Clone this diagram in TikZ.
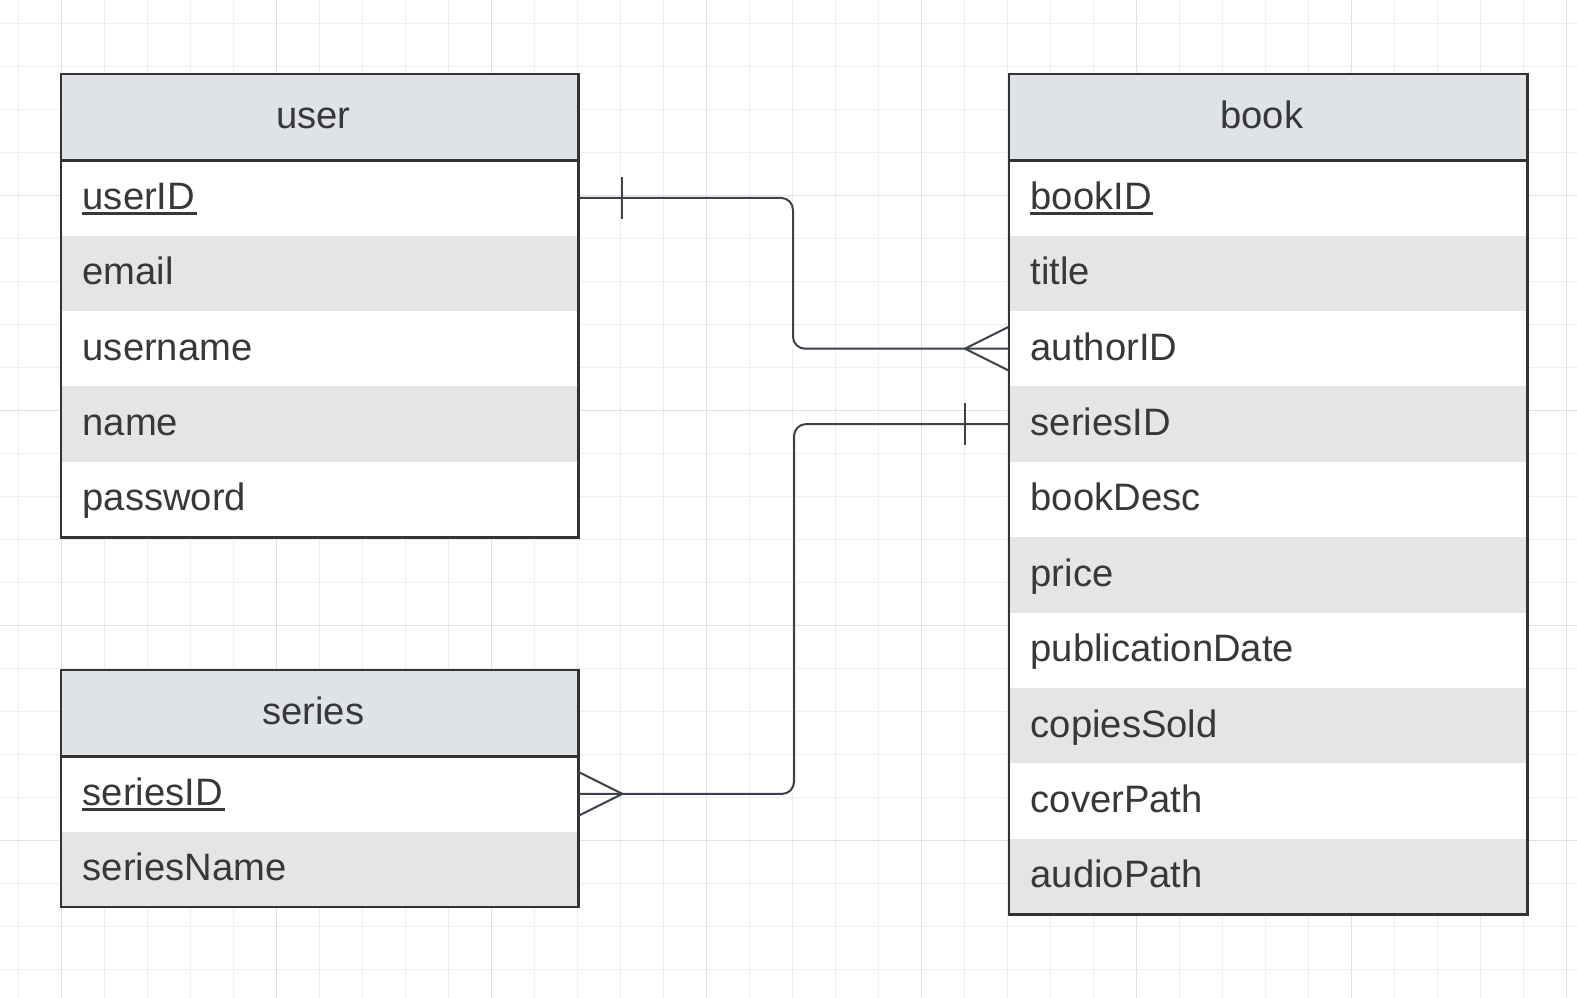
\documentclass[tikz,border=0pt]{standalone}
\usepackage{fontspec}
\setmainfont{Liberation Sans}
\definecolor{hdrfill}{RGB}{223,226,231}
\definecolor{rowfill}{RGB}{229,229,229}
\definecolor{txt}{RGB}{56,56,56}
\definecolor{bord}{RGB}{51,51,51}
\definecolor{conncol}{RGB}{60,65,74}
\definecolor{gridmin}{RGB}{238,238,238}
\definecolor{gridmaj}{RGB}{224,224,224}
\tikzset{
  hdr/.style={draw=none, fill=hdrfill, minimum width=517pt, minimum height=86pt, inner sep=0pt, anchor=north west},
  rw/.style={draw=none, fill=white, minimum width=517pt, minimum height=75.4pt, inner sep=0pt, anchor=north west},
  rg/.style={rw, fill=rowfill},
  lbl/.style={text=txt, inner sep=0pt, anchor=base west, font=\fontsize{38.2}{45}\selectfont},
  hlbl/.style={text=txt, inner sep=0pt, anchor=base, font=\fontsize{38.2}{45}\selectfont},
  tblborder/.style={draw=bord, line width=2.2pt},
  keyline/.style={draw=txt, line width=2.6pt},
  conn/.style={draw=conncol, line width=2pt, rounded corners=12pt},
  ermark/.style={draw=conncol, line width=2pt},
}
\begin{document}
\begin{tikzpicture}[x=1pt,y=-1pt]
\useasboundingbox (0,0) rectangle (1577,998);
\fill[white] (0,0) rectangle (1577,998);
% grid
\begin{scope}
\clip (0,0) rectangle (1577,998);
\foreach \k in {0,...,36}{
  \pgfmathtruncatemacro\m{mod(\k,5)}
  \ifnum\m=1 \def\gc{gridmaj}\else\def\gc{gridmin}\fi
  \draw[draw=\gc, line width=1.1pt] (18.3+43*\k,0) -- (18.3+43*\k,998);
}
\foreach \k in {0,...,22}{
  \pgfmathtruncatemacro\m{mod(\k,5)}
  \ifnum\m=4 \def\gc{gridmaj}\else\def\gc{gridmin}\fi
  \draw[draw=\gc, line width=1.1pt] (0,23.3+43*\k) -- (1577,23.3+43*\k);
}
\end{scope}

% ---------- user table ----------
\node[hdr] (uh) at (61,74) {};
\node[rw] (u1) at (61,160) {};
\node[rg] (u2) at (61,235.4) {};
\node[rw] (u3) at (61,310.8) {};
\node[rg] (u4) at (61,386.2) {};
\node[rw] (u5) at (61,461.6) {};
\node[hlbl] (uht) at ([xshift=-6.5pt,yshift=-11pt]uh.center) {user};
\node[lbl] (u1t) at ([xshift=21.5pt,yshift=-11.3pt]u1.west) {userID};
\node[lbl] (u2t) at ([xshift=21.5pt,yshift=-11.3pt]u2.west) {email};
\node[lbl] (u3t) at ([xshift=21.5pt,yshift=-11.3pt]u3.west) {username};
\node[lbl] (u4t) at ([xshift=21.5pt,yshift=-11.3pt]u4.west) {name};
\node[lbl] (u5t) at ([xshift=21.5pt,yshift=-11.3pt]u5.west) {password};
\draw[keyline] ([xshift=-1pt,yshift=-4pt]u1t.base west) -- ([xshift=1.5pt,yshift=-4pt]u1t.base east);
\draw[tblborder] (uh.north west) rectangle (u5.south east);
\draw[tblborder] (uh.south west) -- (uh.south east);

% ---------- series table ----------
\node[hdr] (sh) at (61,670) {};
\node[rw] (s1) at (61,756) {};
\node[rg] (s2) at (61,831.4) {};
\node[hlbl] (sht) at ([xshift=-6.5pt,yshift=-11pt]sh.center) {series};
\node[lbl] (s1t) at ([xshift=21.5pt,yshift=-11.3pt]s1.west) {seriesID};
\node[lbl] (s2t) at ([xshift=21.5pt,yshift=-11.3pt]s2.west) {seriesName};
\draw[keyline] ([xshift=-1pt,yshift=-4pt]s1t.base west) -- ([xshift=1.5pt,yshift=-4pt]s1t.base east);
\draw[tblborder] (sh.north west) rectangle (s2.south east);
\draw[tblborder] (sh.south west) -- (sh.south east);

% ---------- book table ----------
\node[hdr, minimum width=518pt] (bh) at (1009,74) {};
\node[rw, minimum width=518pt] (b1) at (1009,160) {};
\node[rg, minimum width=518pt] (b2) at (1009,235.4) {};
\node[rw, minimum width=518pt] (b3) at (1009,310.8) {};
\node[rg, minimum width=518pt] (b4) at (1009,386.2) {};
\node[rw, minimum width=518pt] (b5) at (1009,461.6) {};
\node[rg, minimum width=518pt] (b6) at (1009,537.0) {};
\node[rw, minimum width=518pt] (b7) at (1009,612.4) {};
\node[rg, minimum width=518pt] (b8) at (1009,687.8) {};
\node[rw, minimum width=518pt] (b9) at (1009,763.2) {};
\node[rg, minimum width=518pt] (b10) at (1009,838.6) {};
\node[hlbl] (bht) at ([xshift=-6.5pt,yshift=-11pt]bh.center) {book};
\node[lbl] (b1t) at ([xshift=21.5pt,yshift=-11.3pt]b1.west) {bookID};
\node[lbl] (b2t) at ([xshift=21.5pt,yshift=-11.3pt]b2.west) {title};
\node[lbl] (b3t) at ([xshift=21.5pt,yshift=-11.3pt]b3.west) {authorID};
\node[lbl] (b4t) at ([xshift=21.5pt,yshift=-11.3pt]b4.west) {seriesID};
\node[lbl] (b5t) at ([xshift=21.5pt,yshift=-11.3pt]b5.west) {bookDesc};
\node[lbl] (b6t) at ([xshift=21.5pt,yshift=-11.3pt]b6.west) {price};
\node[lbl] (b7t) at ([xshift=21.5pt,yshift=-11.3pt]b7.west) {publicationDate};
\node[lbl] (b8t) at ([xshift=21.5pt,yshift=-11.3pt]b8.west) {copiesSold};
\node[lbl] (b9t) at ([xshift=21.5pt,yshift=-11.3pt]b9.west) {coverPath};
\node[lbl] (b10t) at ([xshift=21.5pt,yshift=-11.3pt]b10.west) {audioPath};
\draw[keyline] ([xshift=-1pt,yshift=-4pt]b1t.base west) -- ([xshift=1.5pt,yshift=-4pt]b1t.base east);
\draw[tblborder] (bh.north west) rectangle (b10.south east);
\draw[tblborder] (bh.south west) -- (bh.south east);

% ---------- connectors ----------
\coordinate (mx1) at (793,0);
\coordinate (mx2) at (794,0);
% user.userID (one) -- book.authorID (many)
\draw[conn] (u1.east) -- (u1.east -| mx1) -- (b3.west -| mx1) -- (b3.west);
\draw[ermark] ([xshift=44pt,yshift=21pt]u1.east) -- ([xshift=44pt,yshift=-21pt]u1.east);
\draw[ermark] ([yshift=22pt]b3.west) -- ([xshift=-44pt]b3.west) -- ([yshift=-22pt]b3.west);
% book.seriesID (one) -- series.seriesID (many)
\draw[conn] (b4.west) -- (b4.west -| mx2) -- (s1.east -| mx2) -- (s1.east);
\draw[ermark] ([xshift=-44pt,yshift=21pt]b4.west) -- ([xshift=-44pt,yshift=-21pt]b4.west);
\draw[ermark] ([yshift=22pt]s1.east) -- ([xshift=44pt]s1.east) -- ([yshift=-22pt]s1.east);
\end{tikzpicture}
\end{document}
